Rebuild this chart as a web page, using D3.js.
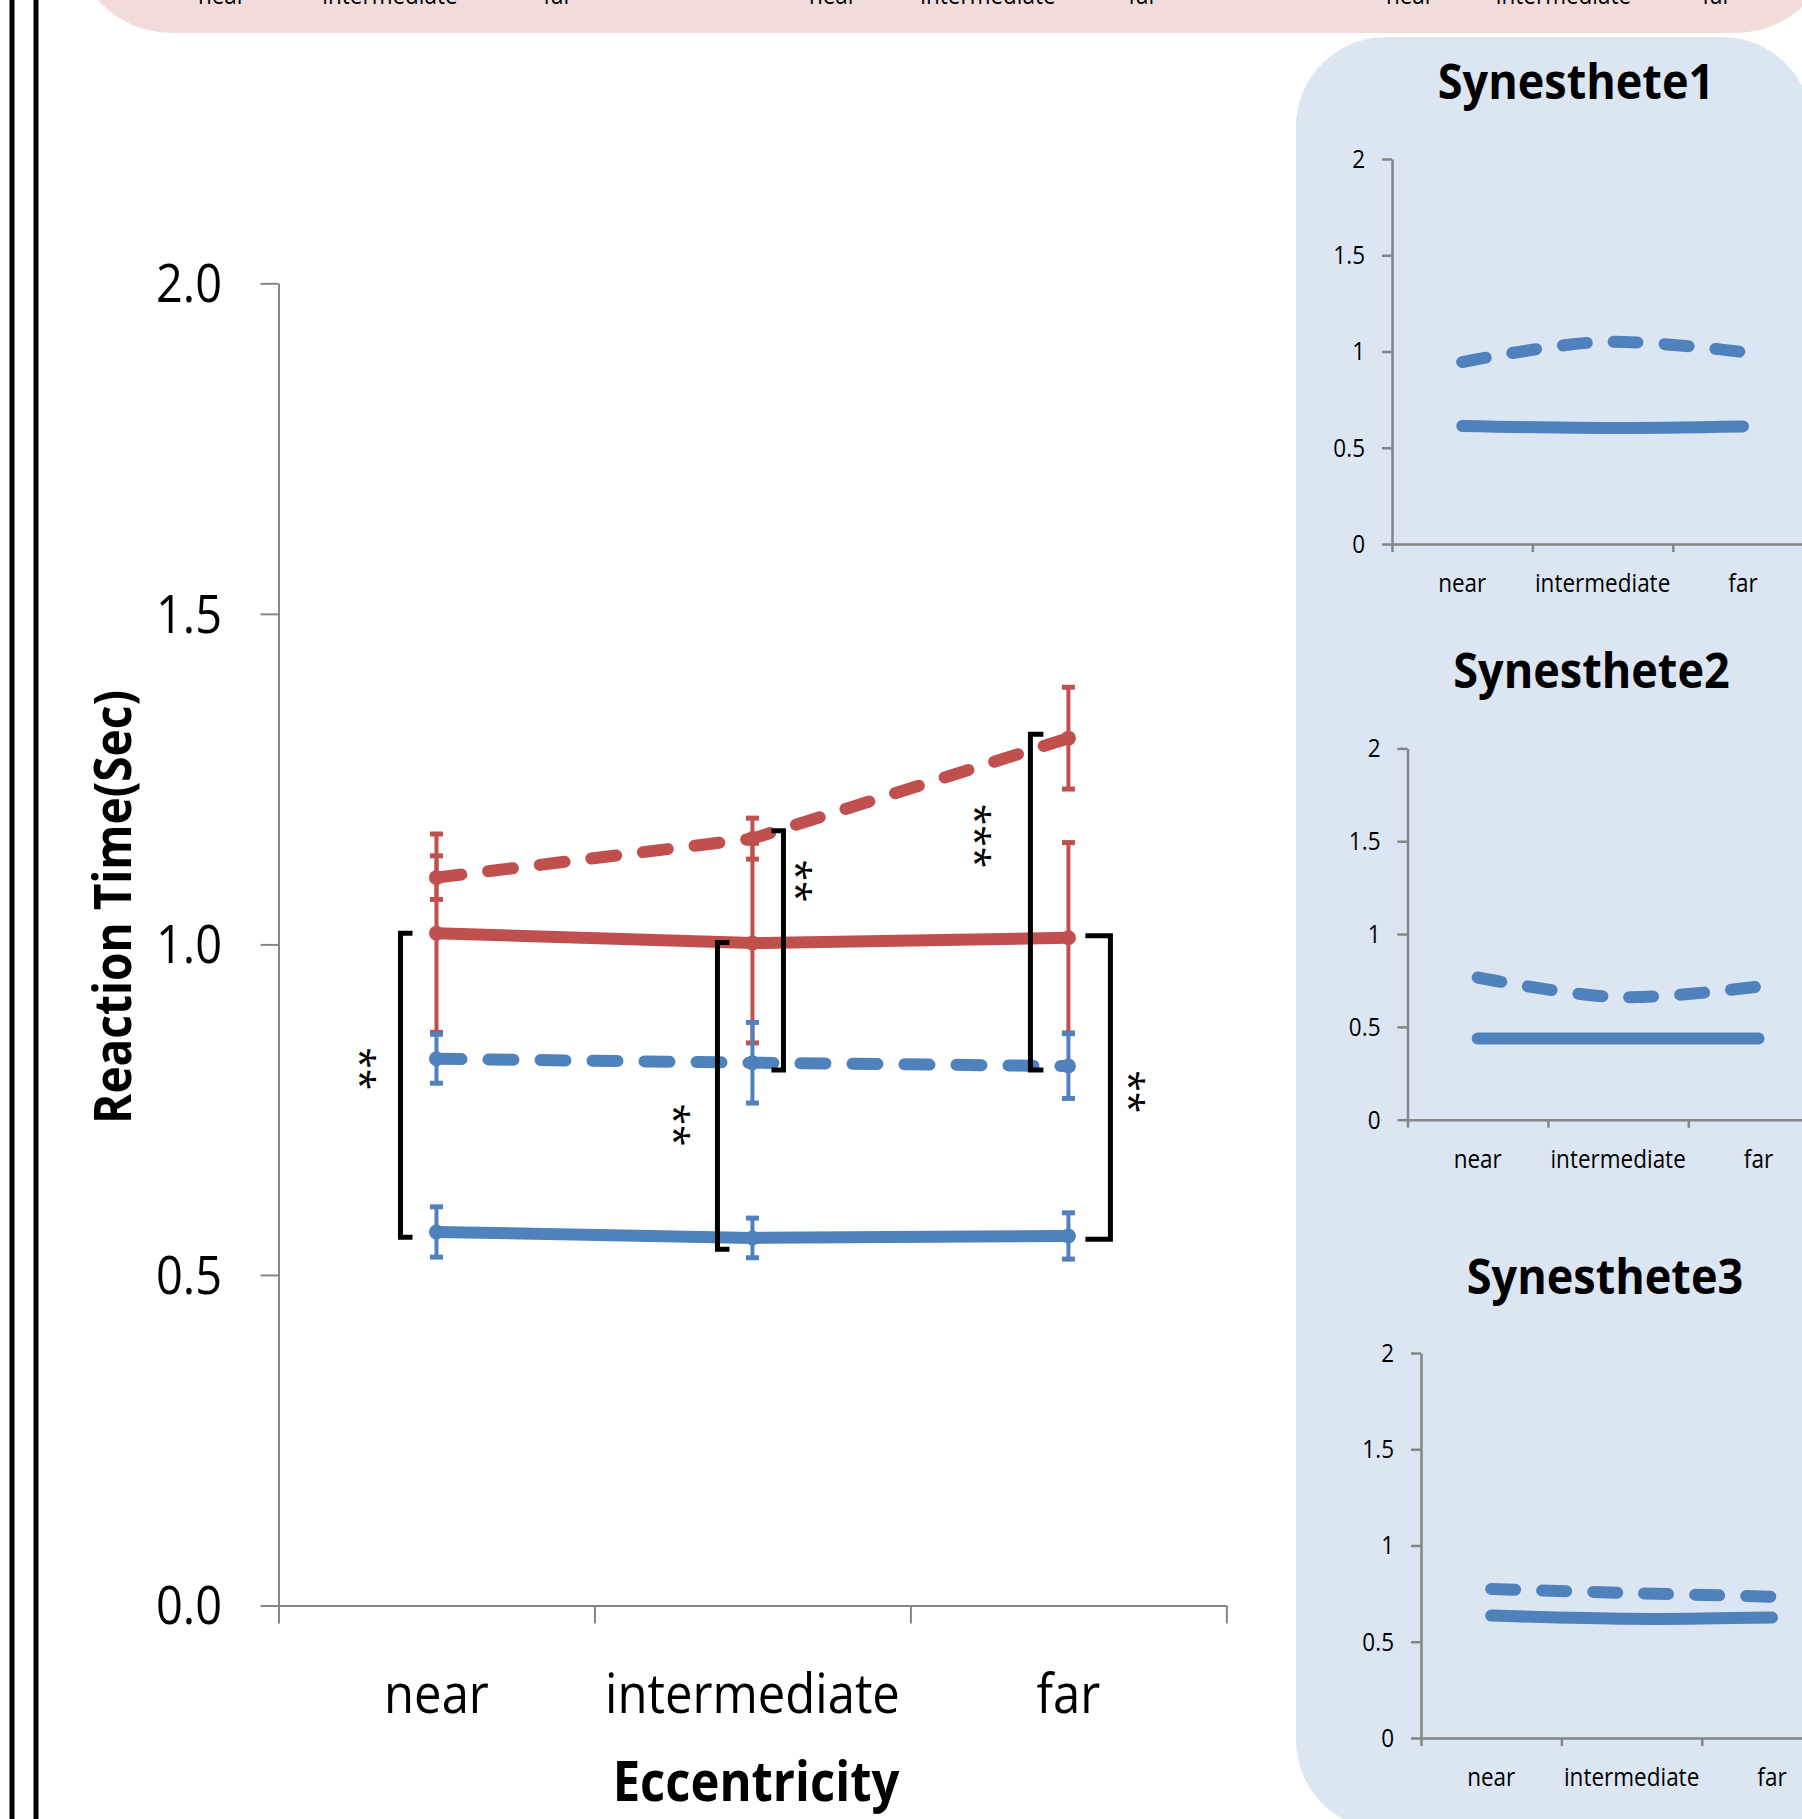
<!DOCTYPE html>
<html><head><meta charset="utf-8">
<script src="https://cdn.jsdelivr.net/npm/d3@7"></script>
<style>html,body{margin:0;padding:0;background:#fff;overflow:hidden;} svg{display:block;}</style>
</head><body>
<svg id="c" width="1802" height="1819"></svg>
<script>
// ---------------- data ----------------
const categories = ["near", "intermediate", "far"];
const yTicksMain = [0, 0.5, 1, 1.5, 2];
const yTickLabelsMain = ["0.0", "0.5", "1.0", "1.5", "2.0"];
const yTicksSmall = [0, 0.5, 1, 1.5, 2];
const yTickLabelsSmall = ["0", "0.5", "1", "1.5", "2"];
const xAxisTitle = "Eccentricity";
const yAxisTitle = "Reaction Time(Sec)";

const redDashed = [1.101, 1.160, 1.312];
const redDashedErr = [0.033, 0.031, 0.077];
const redSolid = [1.017, 1.002, 1.010];
const redSolidErr = [0.150, 0.151, 0.144];
const blueDashed = [0.827, 0.821, 0.816];
const blueDashedErr = [0.037, 0.061, 0.049];
const blueSolid = [0.565, 0.556, 0.559];
const blueSolidErr = [0.038, 0.030, 0.035];

const panelTitles = ["Synesthete1", "Synesthete2", "Synesthete3"];
const syn1Dashed = [0.945, 1.05, 0.997];
const syn1Solid = [0.613, 0.603, 0.611];
const syn2Dashed = [0.766, 0.66, 0.717];
const syn2Solid = [0.438, 0.438, 0.438];
const syn3Dashed = [0.774, 0.753, 0.734];
const syn3Solid = [0.636, 0.619, 0.626];

// significance brackets (category index, value span, label, label value)
const sigCategory = [0, 1, 1, 2, 2];
const sigTop = [1.017, 1.003, 1.172, 1.318, 1.013];
const sigBottom = [0.557, 0.539, 0.810, 0.810, 0.554];
const sigLabels = ["**", "**", "**", "***", "**"];
const sigLabelValue = [0.812, 0.727, 1.096, 1.164, 0.777];

// ---------------- layout / style ----------------
const sigSide = ["[", "[", "]", "[", "]"];
const sigOffset = [-36, -35, 31, -38, 42];
const sigHook = [12, 12, 12, 13, 25];
const sigLabelOffset = [-67, -69, 53, -84, 70];

const RED = "#c0504d", BLUE = "#4f81bd", AXIS = "#868686";
const FONT = "'Open Sans', 'Noto Sans', sans-serif";
const SY = 1.12;

const svg = d3.select("#c");

function txt(parent, x, y, s, size, o = {}) {
  const t = parent.append("text")
    .attr("transform", `translate(${x},${y})` + (o.rot ? ` rotate(${o.rot})` : "") + ` scale(1,${o.sy || SY})`)
    .attr("font-family", FONT)
    .attr("font-size", size)
    .attr("font-weight", o.bold ? 700 : 400)
    .attr("text-anchor", o.anchor || "middle")
    .attr("fill", o.fill || "#000")
    .text(s);
  if (o.dy) t.attr("dy", o.dy);
  return t;
}

// ---------------- background decorations ----------------
svg.append("rect").attr("x", 9.5).attr("y", 0).attr("width", 5).attr("height", 1819).attr("fill", "#000");
svg.append("rect").attr("x", 33.5).attr("y", 0).attr("width", 5).attr("height", 1819).attr("fill", "#000");

svg.append("rect").attr("x", 72).attr("y", -200).attr("width", 1763).attr("height", 233)
  .attr("rx", 100).attr("fill", "#f2dcdb");

// partially visible labels of the upper (pink) panel
const topGroups = [[222, 558], [833, 1143], [1410, 1717]];
topGroups.forEach(r => {
  const s = d3.scaleLinear([0, 2], r);
  categories.forEach((c, i) => txt(svg, s(i), 4, c, 22.5));
});

svg.append("rect").attr("x", 1296).attr("y", 37).attr("width", 516).attr("height", 1793)
  .attr("rx", 90).attr("fill", "#dce6f2");
svg.append("rect").attr("x", 1500).attr("y", 900).attr("width", 400).attr("height", 1000)
  .attr("fill", "#dce6f2");

// ---------------- main chart ----------------
const xMain = d3.scaleLinear([0, 3], [278.5, 1226.4]);
const yMain = d3.scaleLinear([0, 2], [1605.5, 283.3]);
const gMain = svg.append("g");

function styleAxis(g, w) {
  g.selectAll("path,line").attr("stroke", AXIS).attr("stroke-width", w);
}
gMain.append("g").attr("transform", "translate(278.5,0)")
  .call(d3.axisLeft(yMain).tickValues(yTicksMain).tickSize(18).tickSizeOuter(0).tickFormat(""))
  .call(g => styleAxis(g, 2));
gMain.append("g").attr("transform", "translate(0,1605.5)")
  .call(d3.axisBottom(xMain).tickValues([0, 1, 2, 3]).tickSize(18).tickSizeOuter(0).tickFormat(""))
  .call(g => styleAxis(g, 2));

yTicksMain.forEach((v, i) => txt(gMain, 222, yMain(v), yTickLabelsMain[i], 47, { anchor: "end", dy: "0.357em" }));
categories.forEach((c, i) => txt(gMain, xMain(i + 0.5), 1713, c, 49));
txt(gMain, 756, 1801, xAxisTitle, 49, { bold: true });
txt(gMain, 131, 907, yAxisTitle, 46, { bold: true, rot: -90 });

const seriesMain = [
  { v: redDashed, e: redDashedErr, c: RED, dash: true },
  { v: redSolid, e: redSolidErr, c: RED, dash: false },
  { v: blueDashed, e: blueDashedErr, c: BLUE, dash: true },
  { v: blueSolid, e: blueSolidErr, c: BLUE, dash: false }
];

// error bars
seriesMain.forEach(s => {
  s.v.forEach((v, i) => {
    const x = xMain(i + 0.5);
    gMain.append("line").attr("x1", x).attr("x2", x)
      .attr("y1", yMain(v - s.e[i])).attr("y2", yMain(v + s.e[i]))
      .attr("stroke", s.c).attr("stroke-width", 4);
    [v - s.e[i], v + s.e[i]].forEach(b => {
      gMain.append("line").attr("x1", x - 6.5).attr("x2", x + 6.5)
        .attr("y1", yMain(b)).attr("y2", yMain(b))
        .attr("stroke", s.c).attr("stroke-width", 5);
    });
  });
});

const lineMain = d3.line().x((d, i) => xMain(i + 0.5)).y(d => yMain(d));
seriesMain.forEach(s => {
  gMain.append("path").attr("d", lineMain(s.v)).attr("fill", "none")
    .attr("stroke", s.c).attr("stroke-width", 12).attr("stroke-linecap", "round")
    .attr("stroke-linejoin", "round")
    .attr("stroke-dasharray", s.dash ? "25,27" : null);
  s.v.forEach((v, i) => {
    gMain.append("circle").attr("cx", xMain(i + 0.5)).attr("cy", yMain(v)).attr("r", 7.5).attr("fill", s.c);
  });
});

// significance brackets
sigCategory.forEach((ci, k) => {
  const x = xMain(ci + 0.5) + sigOffset[k];
  const h = sigSide[k] === "[" ? sigHook[k] : -sigHook[k];
  const y1 = yMain(sigTop[k]), y2 = yMain(sigBottom[k]);
  gMain.append("path").attr("d", `M${x + h},${y1}H${x}V${y2}H${x + h}`)
    .attr("fill", "none").attr("stroke", "#000").attr("stroke-width", 5);
  txt(gMain, xMain(ci + 0.5) + sigLabelOffset[k], yMain(sigLabelValue[k]), sigLabels[k], 39,
    { rot: 90, dy: "0.58em", sy: 1 });
});

// ---------------- small panels ----------------
const panels = [
  { title: panelTitles[0], dashed: syn1Dashed, solid: syn1Solid, x0: 1392, y0: 544, y2: 159, ty: 99 },
  { title: panelTitles[1], dashed: syn2Dashed, solid: syn2Solid, x0: 1407.5, y0: 1119.7, y2: 748.4, ty: 688 },
  { title: panelTitles[2], dashed: syn3Dashed, solid: syn3Solid, x0: 1421, y0: 1738, y2: 1353, ty: 1294 }
];

panels.forEach(p => {
  const g = svg.append("g");
  const x = d3.scaleLinear([0, 3], [p.x0, p.x0 + 421.2]);
  const y = d3.scaleLinear([0, 2], [p.y0, p.y2]);
  g.append("g").attr("transform", `translate(${p.x0},0)`)
    .call(d3.axisLeft(y).tickValues(yTicksSmall).tickSize(10).tickSizeOuter(0).tickFormat(""))
    .call(a => styleAxis(a, 2.5));
  g.append("g").attr("transform", `translate(0,${p.y0})`)
    .call(d3.axisBottom(x).tickValues([0, 1, 2, 3]).tickSize(8).tickSizeOuter(0).tickFormat(""))
    .call(a => styleAxis(a, 2.5));
  yTicksSmall.forEach((v, i) => txt(g, p.x0 - 27, y(v), yTickLabelsSmall[i], 22.5, { anchor: "end", dy: "0.357em" }));
  categories.forEach((c, i) => txt(g, x(i + 0.5), p.y0 + 48, c, 22.5));
  txt(g, p.x0 + 184, p.ty, p.title, 45, { bold: true, sy: 1.07 });
  const ln = d3.line().x((d, i) => x(i + 0.5)).y(d => y(d)).curve(d3.curveCatmullRom.alpha(0.5));
  g.append("path").attr("d", ln(p.dashed)).attr("fill", "none").attr("stroke", BLUE)
    .attr("stroke-width", 12).attr("stroke-linecap", "round").attr("stroke-dasharray", "24,27");
  g.append("path").attr("d", ln(p.solid)).attr("fill", "none").attr("stroke", BLUE)
    .attr("stroke-width", 12).attr("stroke-linecap", "round");
});
</script>
</body></html>
